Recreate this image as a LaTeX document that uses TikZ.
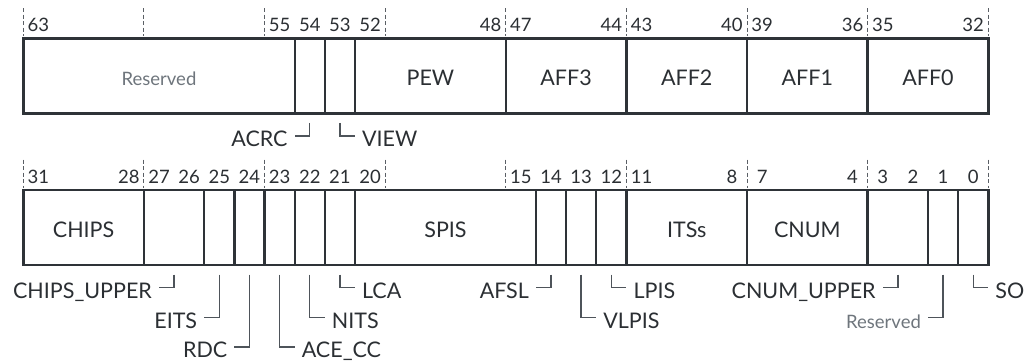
\documentclass[tikz,border=0pt]{standalone}
\usepackage{fontspec}
\setmainfont{Lato}
\usetikzlibrary{calc}
\definecolor{boxc}{HTML}{2E3338}
\definecolor{txt}{HTML}{2B2F33}
\definecolor{resgray}{HTML}{6E757C}
\definecolor{linec}{HTML}{4E545A}
\definecolor{tickc}{HTML}{5A5F65}
\tikzset{
  field/.style={draw=boxc, line width=2.4pt, rectangle, minimum height=74.8pt, inner sep=0pt,
    text height=20pt, text depth=0pt, text=txt, font=\fontsize{21.5}{25}\selectfont},
  num/.style={inner sep=0pt, text=txt, font=\fontsize{18.5}{22}\selectfont},
  lab/.style={inner sep=0pt, text=txt, font=\fontsize{21.5}{25}\selectfont},
  reslab/.style={inner sep=0pt, text=resgray, font=\fontsize{18.5}{22}\selectfont},
  callout/.style={draw=linec, line width=1.4pt},
  tickline/.style={draw=tickc, line width=0.9pt, dash pattern=on 4pt off 2.5pt}
}
\newcommand\bfield[6]{% name, rowmsb, msb, lsb, ycenter, text
  \pgfmathsetmacro\fxc{23.3+(#2-(#3+#4)/2)*30.156+15.078}%
  \pgfmathsetmacro\fw{(#3-#4+1)*30.156}%
  \node[field, minimum width=\fw pt] (#1) at (\fxc,#5) {#6};}
\newcommand\bnum[3]{% rowmsb, bit, baseline
  \node[num, anchor=base] (n#2) at ({23.3+(#1-#2+0.5)*30.156},#3) {#2};}
\newcommand\calleft[5]{% field, id, level, text, style
  \path let \p1=(#1.south) in coordinate (c#2) at (\x1-15pt,-#3pt);
  \draw[callout] ([yshift=-8.4pt]#1.south) |- (c#2);
  \node[#5, anchor=base east] (L#2) at ([xshift=-7pt,yshift=-10.5pt]c#2) {#4};}
\newcommand\calright[5]{%
  \path let \p1=(#1.south) in coordinate (c#2) at (\x1+15pt,-#3pt);
  \draw[callout] ([yshift=-8.4pt]#1.south) |- (c#2);
  \node[#5, anchor=base west] (L#2) at ([xshift=7pt,yshift=-10.5pt]c#2) {#4};}
\begin{document}
\begin{tikzpicture}[x=1pt,y=-1pt]
\useasboundingbox (0,0) rectangle (1026,362);
% ticks
\foreach \k in {0,...,8} {
  \draw[tickline] ({23.3+\k*120.625},8) -- ++(0,28);
  \draw[tickline] ({23.3+\k*120.625},159.7) -- ++(0,28);
}
% row 1
\bfield{f63}{63}{63}{55}{75.9}{{\color{resgray}\fontsize{18.5}{22}\selectfont Reserved}}
\bfield{f54}{63}{54}{54}{75.9}{}
\bfield{f53}{63}{53}{53}{75.9}{}
\bfield{fPEW}{63}{52}{48}{75.9}{PEW}
\bfield{fAFF3}{63}{47}{44}{75.9}{AFF3}
\bfield{fAFF2}{63}{43}{40}{75.9}{AFF2}
\bfield{fAFF1}{63}{39}{36}{75.9}{AFF1}
\bfield{fAFF0}{63}{35}{32}{75.9}{AFF0}
\foreach \b in {63,55,54,53,52,48,47,44,43,40,39,36,35,32} {\bnum{63}{\b}{31.7}}
% row 2
\bfield{fCHIPS}{31}{31}{28}{227.6}{CHIPS}
\bfield{f27}{31}{27}{26}{227.6}{}
\bfield{f25}{31}{25}{25}{227.6}{}
\bfield{f24}{31}{24}{24}{227.6}{}
\bfield{f23}{31}{23}{23}{227.6}{}
\bfield{f22}{31}{22}{22}{227.6}{}
\bfield{f21}{31}{21}{21}{227.6}{}
\bfield{fSPIS}{31}{20}{15}{227.6}{SPIS}
\bfield{f14}{31}{14}{14}{227.6}{}
\bfield{f13}{31}{13}{13}{227.6}{}
\bfield{f12}{31}{12}{12}{227.6}{}
\bfield{fITS}{31}{11}{8}{227.6}{ITSs}
\bfield{fCNUM}{31}{7}{4}{227.6}{CNUM}
\bfield{f3}{31}{3}{2}{227.6}{}
\bfield{f1}{31}{1}{1}{227.6}{}
\bfield{f0}{31}{0}{0}{227.6}{}
\foreach \b in {31,28,27,26,25,24,23,22,21,20,15,14,13,12,11,8,7,4,3,2,1,0} {\bnum{31}{\b}{183.4}}
% callouts row 1
\calleft{f54}{ACRC}{136}{ACRC}{lab}
\calright{f53}{VIEW}{136}{VIEW}{lab}
% callouts row 2
\calleft{f27}{CHU}{287.7}{CHIPS\_UPPER}{lab}
\calleft{f25}{EITS}{317.5}{EITS}{lab}
\calleft{f24}{RDC}{347}{RDC}{lab}
\calright{f23}{ACE}{347}{ACE\_CC}{lab}
\calright{f22}{NITS}{317.5}{NITS}{lab}
\calright{f21}{LCA}{287.7}{LCA}{lab}
\calleft{f14}{AFSL}{287.7}{AFSL}{lab}
\calright{f13}{VLPIS}{317.5}{VLPIS}{lab}
\calright{f12}{LPIS}{287.7}{LPIS}{lab}
\calleft{f3}{CNU}{287.7}{CNUM\_UPPER}{lab}
\calleft{f1}{RES}{317.5}{Reserved}{reslab}
\calright{f0}{SO}{287.7}{SO}{lab}
\end{tikzpicture}
\end{document}
